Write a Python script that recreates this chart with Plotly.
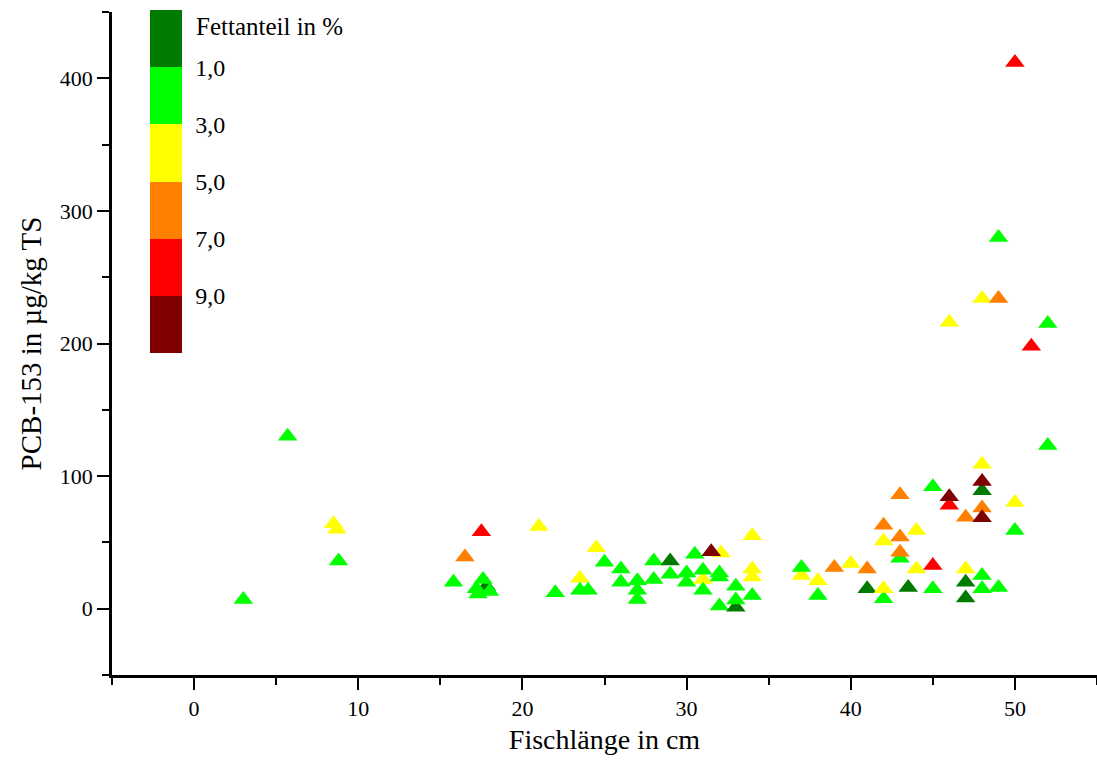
import plotly.graph_objects as go

# Fish length (cm), PCB-153 (µg/kg TS), fat content (%) class estimate
length = [3.0, 5.7, 8.5, 8.7, 8.8, 15.8, 16.5, 17.5, 17.8, 17.6, 17.2, 18.0, 17.3,
          21.0, 22.0, 23.5, 23.5, 24.0, 24.5, 25.0, 26.0, 26.0, 27.0, 27.0, 27.0,
          28.0, 28.0, 29.0, 29.0, 30.0, 30.0, 30.5, 31.0, 31.0, 31.0, 32.1, 31.5,
          32.0, 32.0, 32.0, 33.0, 33.0, 33.0, 34.0, 34.0, 34.0, 34.0, 37.0, 37.0,
          38.0, 38.0, 39.0, 40.0, 41.0, 41.0, 42.0, 42.0, 42.0, 42.0, 43.0, 43.0,
          43.0, 43.0, 43.5, 44.0, 44.0, 45.0, 45.0, 45.0, 46.0, 46.0, 46.0, 47.0,
          47.0, 47.0, 47.0, 48.0, 48.0, 48.0, 48.0, 48.0, 48.0, 48.0, 48.0, 49.0,
          49.0, 49.0, 50.0, 50.0, 50.0, 51.0, 52.0, 52.0]
pcb = [7, 130, 64, 60, 36, 20, 39, 58, 17, 22, 15, 13, 11,
       62, 12, 23, 14, 14, 46, 35, 30, 20, 21, 14, 7,
       36, 22, 36, 26, 27, 20, 41, 22, 29, 14, 42, 43,
       27, 24, 2, 17, 1, 6.5, 55, 30, 24, 10, 25, 31,
       21, 10, 31, 34, 30, 15, 63, 51, 7.5, 15, 86, 54,
       38, 42.5, 16, 59, 30, 92, 32.5, 15, 216, 78, 84.5, 69,
       30, 20, 8, 234, 109, 89, 96, 76, 68.5, 25, 15, 280,
       234, 16, 412, 80, 59, 198, 215, 123]
fat = [2, 2, 4, 4, 2, 2, 6, 8, 0.5, 2, 2, 2, 2,
       4, 2, 4, 2, 2, 4, 2, 2, 2, 2, 2, 2,
       2, 2, 0.5, 2, 2, 2, 2, 4, 2, 2, 4, 10,
       2, 2, 2, 2, 0.5, 2, 4, 4, 4, 2, 4, 2,
       4, 2, 6, 4, 6, 0.5, 6, 4, 2, 4, 6, 6,
       2, 6, 0.5, 4, 4, 2, 8, 2, 4, 8, 10, 6,
       4, 0.5, 0.5, 4, 4, 0.5, 10, 6, 10, 2, 2, 2,
       6, 2, 8, 4, 2, 8, 2, 2]

cbar_ticks = [1, 3, 5, 7, 9]
cbar_labels = ["1,0", "3,0", "5,0", "7,0", "9,0"]
class_colors = ["#007A00", "#00FF00", "#FFFF00", "#FF8000", "#FF0000", "#7F0000"]

# colour bar runs from low fat (top) to high fat (bottom): use negated values
neg_fat = [-v for v in fat]
neg_ticks = [-v for v in cbar_ticks]
rev_colors = class_colors[::-1]
n = len(rev_colors)
cscale = []
for i, c in enumerate(rev_colors):
    cscale.append([i / n, c])
    cscale.append([(i + 1) / n, c])

FONT = "Liberation Serif, Times New Roman, serif"

fig = go.Figure()
fig.add_trace(go.Scatter(
    x=length, y=pcb, mode="markers",
    marker=dict(
        symbol="triangle-up", size=17, color=neg_fat,
        colorscale=cscale, cmin=-11, cmax=1,
        line=dict(width=0),
        showscale=True,
        colorbar=dict(
            x=(150 - 112) / 985, xanchor="left", xref="paper",
            y=(675 - 10) / 663, yanchor="top", yref="paper",
            lenmode="pixels", len=343, thickness=32, thicknessmode="pixels",
            xpad=0, ypad=0, outlinewidth=0,
            tickvals=neg_ticks, ticktext=cbar_labels,
            ticks="outside", ticklen=9, tickcolor="rgba(0,0,0,0)",
            tickfont=dict(family=FONT, size=24, color="black"),
        ),
    ),
    showlegend=False,
))

fig.add_annotation(
    text="Fettanteil in %", xref="paper", yref="paper",
    x=(194 - 112) / 985, y=(675 - 26) / 663, xanchor="left", yanchor="middle",
    showarrow=False, font=dict(family=FONT, size=25, color="black"),
)

fig.update_xaxes(
    range=[-5, 55], showgrid=False, zeroline=False,
    showline=True, linecolor="black", linewidth=2.5,
    ticks="outside", ticklen=12, tickwidth=2, tickcolor="black",
    tickvals=[0, 10, 20, 30, 40, 50],
    minor=dict(ticks="outside", ticklen=7, tickwidth=2, tickcolor="black",
               tickvals=[-5, 5, 15, 25, 35, 45, 55]),
    tickfont=dict(family=FONT, size=22, color="black"),
    title=dict(text="Fischlänge in cm", font=dict(family=FONT, size=28, color="black"),
               standoff=10),
)
fig.update_yaxes(
    range=[-50, 450], showgrid=False, zeroline=False,
    showline=True, linecolor="black", linewidth=2.5,
    ticks="outside", ticklen=12, tickwidth=2, tickcolor="black",
    tickvals=[0, 100, 200, 300, 400],
    minor=dict(ticks="outside", ticklen=7, tickwidth=2, tickcolor="black",
               tickvals=[-50, 50, 150, 250, 350, 450]),
    tickfont=dict(family=FONT, size=22, color="black"),
    title=dict(text="PCB-153 in µg/kg TS", font=dict(family=FONT, size=29, color="black"),
               standoff=10),
)

fig.update_layout(
    width=1097, height=760,
    margin=dict(l=112, r=0, t=12, b=85),
    paper_bgcolor="white", plot_bgcolor="white",
)

fig.write_html("out.html")
